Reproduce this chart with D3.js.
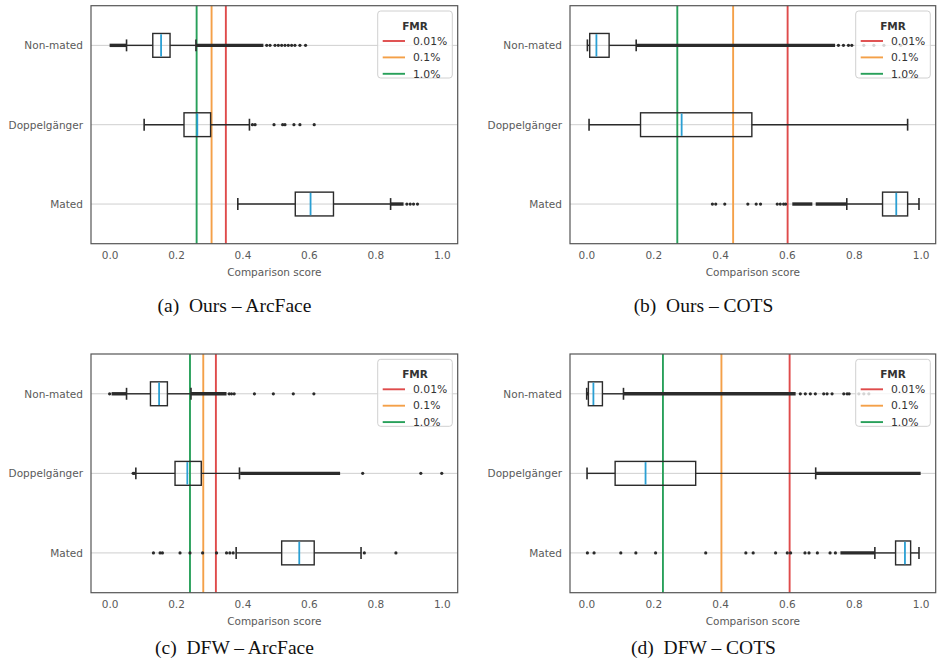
<!DOCTYPE html>
<html>
<head>
<meta charset="utf-8">
<script src="https://cdn.jsdelivr.net/npm/d3@7"></script>
<style>
  body { margin: 0; background: #fff; }
  svg text { font-family: "DejaVu Sans", sans-serif; }
  .caption { font-family: "Liberation Serif", "Times New Roman", serif; white-space: pre; }
</style>
</head>
<body>
<div id="chart"></div>
<script>
// figure : 4 boîtes à moustaches horizontales (scores de comparaison)

const width = 938;
const height = 671;

const categories = ["Non-mated", "Doppelgänger", "Mated"];
const xTicks = [0, 0.2, 0.4, 0.6, 0.8, 1.0];
const fmrLabels = ["0.01%", "0.1%", "1.0%"];
const fmrColors = ["#df4b4b", "#f4a048", "#28a05a"];
const captions = [
  "(a)  Ours – ArcFace",
  "(b)  Ours – COTS",
  "(c)  DFW – ArcFace",
  "(d)  DFW – COTS"
];

// seuils FMR par panneau : [0.01%, 0.1%, 1.0%]
const thrA = [0.350, 0.307, 0.262];
const thrB = [0.602, 0.439, 0.272];
const thrC = [0.320, 0.282, 0.242];
const thrD = [0.608, 0.404, 0.229];

// boîtes : [moustache basse, Q1, médiane, Q3, moustache haute], ordre = categories
const boxesA = [
  [0.051, 0.130, 0.155, 0.182, 0.260],
  [0.104, 0.224, 0.264, 0.304, 0.421],
  [0.386, 0.559, 0.605, 0.674, 0.846]
];
const boxesB = [
  [0.003, 0.010, 0.030, 0.068, 0.149],
  [0.008, 0.162, 0.285, 0.495, 0.961],
  [0.779, 0.886, 0.927, 0.961, 0.995]
];
const boxesC = [
  [0.051, 0.123, 0.149, 0.174, 0.245],
  [0.079, 0.197, 0.234, 0.276, 0.391],
  [0.381, 0.518, 0.571, 0.616, 0.757]
];
const boxesD = [
  [0.001, 0.006, 0.021, 0.048, 0.111],
  [0.002, 0.086, 0.177, 0.327, 0.686],
  [0.863, 0.925, 0.953, 0.970, 0.995]
];

// zones d'outliers très denses (apparaissent comme un trait épais) : [début, fin]
const denseA = [[[0.0, 0.051], [0.260, 0.463]], [], [[0.846, 0.885]]];
const denseB = [[[0.149, 0.744]], [], [[0.616, 0.676], [0.686, 0.779]]];
const denseC = [[[0.006, 0.051], [0.245, 0.352]], [[0.393, 0.694]], []];
const denseD = [[[0.0, 0.006], [0.111, 0.626]], [[0.686, 1.0]], [[0.760, 0.863]]];

// outliers isolés
const fliersA = [
  [0.473, 0.483, 0.498, 0.508, 0.518, 0.528, 0.538, 0.548, 0.558, 0.573, 0.590],
  [0.430, 0.438, 0.495, 0.521, 0.528, 0.555, 0.573, 0.616],
  [0.895, 0.905, 0.915, 0.927]
];
const fliersB = [
  [0.754, 0.769, 0.784, 0.794, 0.830, 0.860, 0.890, 0.940],
  [],
  [0.377, 0.387, 0.414, 0.483, 0.508, 0.521, 0.571, 0.580, 0.590, 0.596]
];
const fliersC = [
  [0.0, 0.360, 0.367, 0.375, 0.436, 0.493, 0.553, 0.615],
  [0.071, 0.074, 0.762, 0.937, 1.0],
  [0.132, 0.152, 0.159, 0.212, 0.242, 0.280, 0.322, 0.352, 0.362, 0.372, 0.767, 0.862]
];
const fliersD = [
  [0.640, 0.655, 0.670, 0.685, 0.710, 0.720, 0.735, 0.770, 0.780, 0.786, 0.815, 0.830, 0.845],
  [],
  [0.003, 0.023, 0.103, 0.148, 0.207, 0.357, 0.477, 0.499, 0.566, 0.601, 0.611, 0.654, 0.666, 0.691, 0.729, 0.745]
];

const svg = d3.select("#chart")
  .append("svg")
  .attr("width", width)
  .attr("height", height);

const panels = [
  { left: 91, right: 457.7, top: 5.7, bottom: 243.7, domain: [-0.056, 1.048],
    thr: thrA, boxes: boxesA, dense: denseA, fliers: fliersA, cx: 234.5, capY: 312 },
  { left: 570, right: 935.7, top: 5.7, bottom: 243.7, domain: [-0.049, 1.045],
    thr: thrB, boxes: boxesB, dense: denseB, fliers: fliersB, cx: 703.5, capY: 312 },
  { left: 91, right: 457.7, top: 354, bottom: 592.7, domain: [-0.056, 1.048],
    thr: thrC, boxes: boxesC, dense: denseC, fliers: fliersC, cx: 234.5, capY: 654 },
  { left: 570, right: 935.7, top: 354, bottom: 592.7, domain: [-0.049, 1.045],
    thr: thrD, boxes: boxesD, dense: denseD, fliers: fliersD, cx: 703.5, capY: 654 }
];

const ink = "#2b2b2b";
const medianColor = "#2a9fd3";

panels.forEach((p, k) => {
  const x = d3.scaleLinear().domain(p.domain).range([p.left, p.right]);
  // position 3 = Non-mated (en haut), 1 = Mated (en bas)
  const y = d3.scaleLinear().domain([0.5, 3.5]).range([p.bottom, p.top]);
  const pos = i => y(3 - i);
  const unit = Math.abs(y(1) - y(0));
  const boxH = unit * 0.3;
  const capH = boxH / 2;

  const g = svg.append("g");

  // grille horizontale
  g.append("g")
    .selectAll("line")
    .data(categories)
    .join("line")
    .attr("x1", p.left)
    .attr("x2", p.right)
    .attr("y1", (d, i) => pos(i))
    .attr("y2", (d, i) => pos(i))
    .attr("stroke", "#cfcfcf")
    .attr("stroke-width", 1);

  // seuils FMR
  g.append("g")
    .selectAll("line")
    .data(p.thr)
    .join("line")
    .attr("x1", d => x(d))
    .attr("x2", d => x(d))
    .attr("y1", p.top)
    .attr("y2", p.bottom)
    .attr("stroke", (d, i) => fmrColors[i])
    .attr("stroke-width", 1.9);

  // boîtes à moustaches
  p.boxes.forEach((b, i) => {
    const cy = pos(i);
    const bg = g.append("g");

    // traits denses d'outliers
    bg.selectAll("line.dense")
      .data(p.dense[i])
      .join("line")
      .attr("class", "dense")
      .attr("x1", d => x(d[0]))
      .attr("x2", d => x(d[1]))
      .attr("y1", cy)
      .attr("y2", cy)
      .attr("stroke", ink)
      .attr("stroke-width", 3.4);

    bg.selectAll("circle")
      .data(p.fliers[i])
      .join("circle")
      .attr("cx", d => x(d))
      .attr("cy", cy)
      .attr("r", 1.6)
      .attr("fill", ink);

    // moustaches
    bg.append("line")
      .attr("x1", x(b[0])).attr("x2", x(b[1]))
      .attr("y1", cy).attr("y2", cy)
      .attr("stroke", ink).attr("stroke-width", 1.4);
    bg.append("line")
      .attr("x1", x(b[3])).attr("x2", x(b[4]))
      .attr("y1", cy).attr("y2", cy)
      .attr("stroke", ink).attr("stroke-width", 1.4);

    // capuchons
    [b[0], b[4]].forEach(v => {
      bg.append("line")
        .attr("x1", x(v)).attr("x2", x(v))
        .attr("y1", cy - capH / 2).attr("y2", cy + capH / 2)
        .attr("stroke", ink).attr("stroke-width", 1.6);
    });

    // boîte
    bg.append("rect")
      .attr("x", x(b[1]))
      .attr("y", cy - boxH / 2)
      .attr("width", x(b[3]) - x(b[1]))
      .attr("height", boxH)
      .attr("fill", "none")
      .attr("stroke", ink)
      .attr("stroke-width", 1.4);

    // médiane
    bg.append("line")
      .attr("x1", x(b[2])).attr("x2", x(b[2]))
      .attr("y1", cy - boxH / 2 + 0.7).attr("y2", cy + boxH / 2 - 0.7)
      .attr("stroke", medianColor).attr("stroke-width", 1.8);
  });

  // cadre
  g.append("rect")
    .attr("x", p.left)
    .attr("y", p.top)
    .attr("width", p.right - p.left)
    .attr("height", p.bottom - p.top)
    .attr("fill", "none")
    .attr("stroke", "#555")
    .attr("stroke-width", 1.2);

  // axes
  const xAxis = g.append("g")
    .attr("transform", `translate(0,${p.bottom})`)
    .call(d3.axisBottom(x).tickValues(xTicks).tickFormat(d3.format(".1f")).tickSize(0).tickPadding(8));
  xAxis.select(".domain").remove();
  xAxis.selectAll("text")
    .style("font-family", "DejaVu Sans")
    .style("font-size", "10.5px")
    .attr("fill", "#5a5a5a");

  const yAxis = g.append("g")
    .attr("transform", `translate(${p.left},0)`)
    .call(d3.axisLeft(y).tickValues([3, 2, 1]).tickFormat(v => categories[3 - v]).tickSize(0).tickPadding(8));
  yAxis.select(".domain").remove();
  yAxis.selectAll("text")
    .style("font-family", "DejaVu Sans")
    .style("font-size", "10.5px")
    .attr("fill", "#5a5a5a");

  g.append("text")
    .attr("x", (p.left + p.right) / 2)
    .attr("y", p.bottom + 32)
    .attr("text-anchor", "middle")
    .style("font-size", "10.5px")
    .attr("fill", "#5a5a5a")
    .text("Comparison score");

  // légende
  const lx = p.right - 80;
  const ly = p.top + 5.3;
  const legend = g.append("g").attr("transform", `translate(${lx},${ly})`);
  legend.append("rect")
    .attr("width", 74.6)
    .attr("height", 67)
    .attr("rx", 3)
    .attr("fill", "#fff")
    .attr("fill-opacity", 0.8)
    .attr("stroke", "#d0d0d0")
    .attr("stroke-width", 1);
  legend.append("text")
    .attr("x", 37.3)
    .attr("y", 18.5)
    .attr("text-anchor", "middle")
    .style("font-size", "10.5px")
    .style("font-weight", "bold")
    .attr("fill", "#333")
    .text("FMR");
  fmrLabels.forEach((lab, i) => {
    const yy = 30 + i * 16.4;
    legend.append("line")
      .attr("x1", 5).attr("x2", 27.3)
      .attr("y1", yy).attr("y2", yy)
      .attr("stroke", fmrColors[i])
      .attr("stroke-width", 1.9);
    legend.append("text")
      .attr("x", 35.3)
      .attr("y", yy)
      .attr("dy", "0.35em")
      .style("font-size", "10.8px")
      .attr("fill", "#333")
      .text(lab);
  });

  // légende de sous-figure
  svg.append("text")
    .attr("class", "caption")
    .attr("x", p.cx)
    .attr("y", p.capY)
    .attr("text-anchor", "middle")
    .style("font-size", "19.5px")
    .attr("fill", "#111")
    .text(captions[k]);
});
</script>
</body>
</html>
